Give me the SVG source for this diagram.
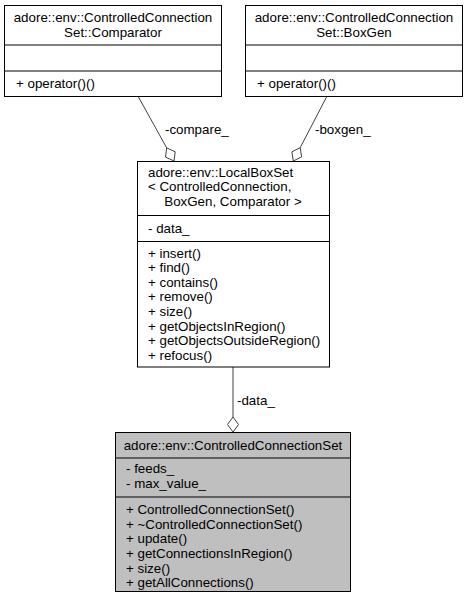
<svg xmlns="http://www.w3.org/2000/svg" width="467" height="603" viewBox="0 0 467 603">
<style>
text{font-family:"Liberation Sans",Arial,sans-serif;font-size:13.33px;fill:#000}
.c{text-anchor:middle}
.box{fill:#fff;stroke:#000;stroke-width:1}
.cur{fill:#bfbfbf;stroke:#000;stroke-width:1}
.sep{stroke:#000;stroke-width:1}
.edge{stroke:#404040;stroke-width:1;fill:none}
.dia{fill:#fff;stroke:#404040;stroke-width:1}
</style>
<rect width="467" height="603" fill="#fff"/>
<g id="edges">
<path class="edge" d="M138.3,96.7 L166.7,147.9"/>
<polygon class="dia" points="166.7,147.9 175.2,151.8 174,161 165.5,157.1"/>
<text x="165" y="134">-compare_</text>
<path class="edge" d="M326.7,96.7 L300.2,147.7"/>
<polygon class="dia" points="300.2,147.7 301.6,156.9 293.3,161 291.9,151.8"/>
<text x="315" y="134">-boxgen_</text>
<path class="edge" d="M233,367 L233,417"/>
<polygon class="dia" points="233,417 238.5,424.5 233,432 227.5,424.5"/>
<text x="237" y="405">-data_</text>
</g>
<g id="comparator">
<rect class="box" x="4.5" y="5.5" width="217" height="91"/>
<line class="sep" x1="4.5" y1="45" x2="221.5" y2="45"/>
<line class="sep" x1="4.5" y1="71" x2="221.5" y2="71"/>
<text class="c" x="113" y="22">adore::env::ControlledConnection</text>
<text class="c" x="113" y="36.5">Set::Comparator</text>
<text x="16" y="88">+ operator()()</text>
</g>
<g id="boxgen">
<rect class="box" x="245.5" y="5.5" width="217" height="91"/>
<line class="sep" x1="245.5" y1="45" x2="462.5" y2="45"/>
<line class="sep" x1="245.5" y1="71" x2="462.5" y2="71"/>
<text class="c" x="354" y="22">adore::env::ControlledConnection</text>
<text class="c" x="354" y="36.5">Set::BoxGen</text>
<text x="257" y="88">+ operator()()</text>
</g>
<g id="localboxset">
<rect class="box" x="137.5" y="161.5" width="192" height="205.5"/>
<line class="sep" x1="137.5" y1="215.5" x2="329.5" y2="215.5"/>
<line class="sep" x1="137.5" y1="241.5" x2="329.5" y2="241.5"/>
<text x="148" y="176.5">adore::env::LocalBoxSet</text>
<text x="148" y="191">&lt; ControlledConnection,</text>
<text class="c" x="233" y="205.7">BoxGen, Comparator &gt;</text>
<text x="148" y="232.5">- data_</text>
<text x="148" y="257.5">+ insert()</text>
<text x="148" y="272">+ find()</text>
<text x="148" y="286.7">+ contains()</text>
<text x="148" y="301.3">+ remove()</text>
<text x="148" y="316">+ size()</text>
<text x="148" y="330.7">+ getObjectsInRegion()</text>
<text x="148" y="345.3">+ getObjectsOutsideRegion()</text>
<text x="148" y="360">+ refocus()</text>
</g>
<g id="controlledconnectionset">
<rect class="cur" x="115.5" y="432.5" width="235" height="159"/>
<line class="sep" x1="115.5" y1="458" x2="350.5" y2="458"/>
<line class="sep" x1="115.5" y1="497" x2="350.5" y2="497"/>
<text class="c" x="233" y="449.5">adore::env::ControlledConnectionSet</text>
<text x="126" y="473">- feeds_</text>
<text x="126" y="487.7">- max_value_</text>
<text x="126" y="514">+ ControlledConnectionSet()</text>
<text x="126" y="528.7">+ ~ControlledConnectionSet()</text>
<text x="126" y="543.3">+ update()</text>
<text x="126" y="558">+ getConnectionsInRegion()</text>
<text x="126" y="572.7">+ size()</text>
<text x="126" y="587.3">+ getAllConnections()</text>
</g>
</svg>
